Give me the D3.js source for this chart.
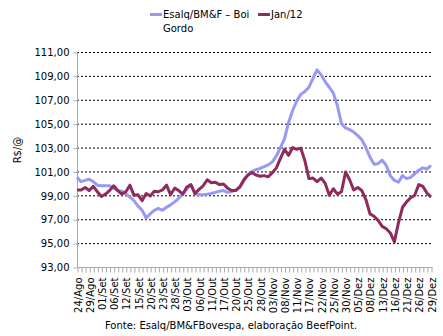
<!DOCTYPE html>
<html><head><meta charset="utf-8">
<script src="https://cdn.jsdelivr.net/npm/d3@7"></script>
<style>body{margin:0;background:#fff}svg{display:block}text{font-family:"DejaVu Sans",Verdana,sans-serif}</style>
</head><body>
<script>
const dates = ["24/Ago","25/Ago","26/Ago","29/Ago","30/Ago","31/Ago","01/Set","02/Set","05/Set","06/Set","08/Set","09/Set","12/Set","13/Set","14/Set","15/Set","16/Set","19/Set","20/Set","21/Set","22/Set","23/Set","26/Set","27/Set","28/Set","29/Set","30/Set","03/Out","04/Out","05/Out","06/Out","07/Out","10/Out","11/Out","13/Out","14/Out","17/Out","18/Out","19/Out","20/Out","21/Out","24/Out","25/Out","26/Out","27/Out","28/Out","31/Out","01/Nov","03/Nov","04/Nov","07/Nov","08/Nov","09/Nov","10/Nov","11/Nov","14/Nov","16/Nov","17/Nov","18/Nov","21/Nov","22/Nov","23/Nov","24/Nov","25/Nov","28/Nov","29/Nov","30/Nov","01/Dez","02/Dez","05/Dez","06/Dez","07/Dez","08/Dez","09/Dez","12/Dez","13/Dez","14/Dez","15/Dez","16/Dez","19/Dez","20/Dez","21/Dez","22/Dez","23/Dez","26/Dez","27/Dez","28/Dez","29/Dez"];
const esalq = [100.5,100.15,100.25,100.35,100.15,99.85,99.8,99.8,99.8,99.6,99.4,99.35,99.15,98.85,98.55,98.1,97.75,97.1,97.45,97.75,97.9,97.75,98.0,98.2,98.45,98.75,99.1,99.55,99.85,99.15,99.05,99.05,99.1,99.15,99.25,99.35,99.4,99.25,99.3,99.45,99.65,100.2,100.7,101.0,101.15,101.25,101.4,101.55,101.8,102.3,103.0,103.75,105.1,106.1,106.9,107.45,107.7,108.05,108.8,109.5,109.1,108.5,108.05,107.55,106.5,105.0,104.65,104.5,104.3,104.0,103.65,103.0,102.2,101.6,101.65,101.95,101.5,100.65,100.25,100.1,100.65,100.4,100.5,100.8,101.1,101.3,101.2,101.5];
const jan12 = [99.45,99.45,99.65,99.4,99.75,99.3,98.9,99.1,99.4,99.8,99.4,99.1,99.3,99.85,99.0,99.05,98.55,99.15,98.95,99.35,99.3,99.45,99.85,99.05,99.6,99.4,99.1,99.7,99.9,99.15,99.5,99.8,100.3,100.05,100.1,99.9,99.95,99.6,99.4,99.4,99.7,100.3,100.7,100.9,100.7,100.6,100.65,100.55,100.9,101.3,102.1,102.85,102.35,103.0,102.85,102.95,101.9,100.4,100.45,100.15,100.45,100.0,99.0,99.55,99.1,99.3,100.95,100.3,99.45,99.65,99.4,98.65,97.45,97.25,96.9,96.4,96.2,95.85,95.1,96.7,98.0,98.45,98.8,99.0,99.9,99.75,99.2,98.85];
const yTicks = [93,95,97,99,101,103,105,107,109,111];
const seriesNames = ["Esalq/BM&F \u2013 Boi", "Jan/12"];
const colors = ["#9999f5", "#8e2a5c"];

const W = 443, H = 336;
const svg = d3.select("body").append("svg").attr("width", W).attr("height", H);
const x = d3.scalePoint().domain(dates).range([77, 431]);
const y = d3.scaleLinear().domain([93, 111]).range([267, 52]);
const fmt = v => v.toFixed(2).replace(".", ",");

// gridlines
svg.append("g").selectAll("line").data(yTicks.filter(t => t > 93)).join("line")
  .attr("x1", 77).attr("x2", 432).attr("y1", d => y(d) + 0.5).attr("y2", d => y(d) + 0.5)
  .attr("stroke", "#000").attr("stroke-width", 1).attr("stroke-dasharray", "2,2");

// y axis
const ya = svg.append("g").attr("transform", "translate(77.5,0.5)")
  .call(d3.axisLeft(y).tickValues(yTicks).tickFormat(fmt).tickSize(4).tickPadding(4));
ya.select(".domain").attr("stroke", "#aaa").attr("d", `M0,${y(111)}V${y(93)}`);
ya.selectAll(".tick line").attr("stroke", "#aaa");
ya.selectAll("text").attr("font-size", 10).attr("fill", "#000").attr("font-family", "DejaVu Sans, Verdana, sans-serif");

// x axis
const xa = svg.append("g").attr("transform", `translate(0.5,${y(93) + 0.5})`)
  .call(d3.axisBottom(x).tickSize(5).tickFormat((d, i) => i % 3 === 0 ? d : ""));
xa.select(".domain").attr("stroke", "#aaa").attr("d", `M77,0H432`);
xa.selectAll(".tick line").attr("stroke", "#aaa");
xa.selectAll("text").attr("font-size", 10).attr("fill", "#000")
  .attr("font-family", "DejaVu Sans, Verdana, sans-serif")
  .attr("text-anchor", "end").attr("dy", "0.35em")
  .attr("transform", "translate(0,2) rotate(-90)").attr("x", -8).attr("y", 0);

// lines
const line = d3.line().x((d, i) => x(dates[i])).y(d => y(d));
[esalq, jan12].forEach((s, k) => {
  svg.append("path").datum(s).attr("d", line).attr("fill", "none")
    .attr("stroke", colors[k]).attr("stroke-width", 3).attr("stroke-linejoin", "round");
});

// y title
svg.append("text").attr("transform", "translate(21,150) rotate(-90)").attr("text-anchor", "middle")
  .attr("font-size", 10).text("R$/@");

// legend
const lg = svg.append("g");
lg.append("line").attr("x1", 150).attr("x2", 162).attr("y1", 14.5).attr("y2", 14.5).attr("stroke", colors[0]).attr("stroke-width", 3);
lg.append("text").attr("x", 163).attr("y", 18).attr("font-size", 10).text(seriesNames[0]);
lg.append("text").attr("x", 163).attr("y", 32).attr("font-size", 10).text("Gordo");
lg.append("line").attr("x1", 258).attr("x2", 270).attr("y1", 14.5).attr("y2", 14.5).attr("stroke", colors[1]).attr("stroke-width", 3);
lg.append("text").attr("x", 271).attr("y", 18).attr("font-size", 10).text(seriesNames[1]);

// source
svg.append("text").attr("x", 231).attr("y", 329).attr("text-anchor", "middle").attr("font-size", 10)
  .text("Fonte: Esalq/BM&FBovespa, elaboração BeefPoint.");
</script>
</body></html>
